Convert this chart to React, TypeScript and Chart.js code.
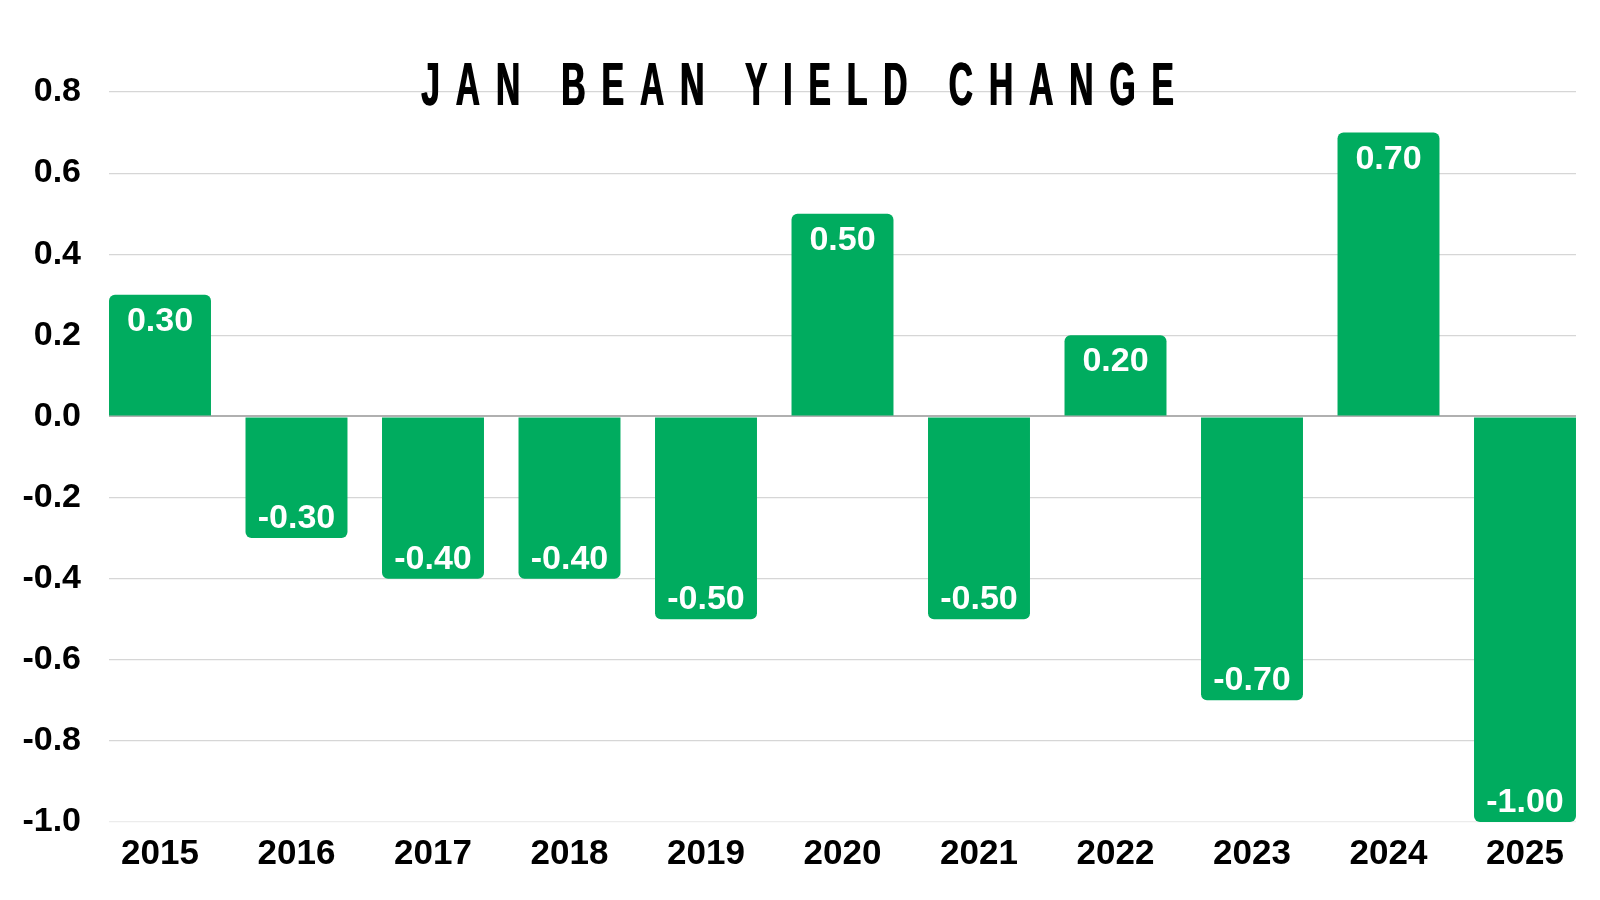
import React, { useEffect, useRef } from "react";
import { Chart, registerables } from "chart.js";

Chart.register(...registerables);

const years = ["2015", "2016", "2017", "2018", "2019", "2020", "2021", "2022", "2023", "2024", "2025"];
const yieldChange = [0.3, -0.3, -0.4, -0.4, -0.5, 0.5, -0.5, 0.2, -0.7, 0.7, -1.0];
const yTickMin = -1.0;
const yTickMax = 0.8;
const yTickStep = 0.2;
const titleText = "JAN BEAN YIELD CHANGE";

const BAR_COLOR = "#00AC5F";
const FONT = "'Liberation Sans', Arial, Helvetica, sans-serif";

const valueLabelPlugin = {
  id: "valueLabels",
  afterDatasetsDraw(chart: any) {
    const ctx = chart.ctx;
    const meta = chart.getDatasetMeta(0);
    ctx.save();
    ctx.fillStyle = "#ffffff";
    ctx.font = `bold 34px ${FONT}`;
    ctx.textAlign = "center";
    ctx.textBaseline = "alphabetic";
    meta.data.forEach((bar: any, i: number) => {
      const v = yieldChange[i];
      const y = v >= 0 ? bar.y + 36 : bar.y - 10;
      ctx.fillText(v.toFixed(2), bar.x, y);
    });
    ctx.restore();
  },
};

export default function App() {
  const canvasRef = useRef<HTMLCanvasElement | null>(null);

  useEffect(() => {
    if (!canvasRef.current) return;
    const chart = new Chart(canvasRef.current, {
      type: "bar",
      data: {
        datasets: [
          {
            data: yieldChange.map((v, i) => ({ x: i, y: v })),
            backgroundColor: BAR_COLOR,
            borderRadius: 6,
            borderSkipped: "start",
            barPercentage: 0.747,
            categoryPercentage: 1,
          },
        ],
      },
      options: {
        animation: false,
        responsive: false,
        maintainAspectRatio: false,
        layout: { padding: { top: 92, right: 24, left: 0, bottom: 0 } },
        plugins: {
          legend: { display: false },
          tooltip: { enabled: false },
          title: { display: false },
        },
        scales: {
          x: {
            type: "linear",
            offset: false,
            min: -0.3736,
            max: years.length - 1 + 0.3736,
            afterBuildTicks: (scale: any) => {
              scale.ticks = years.map((_, i) => ({ value: i }));
            },
            afterFit: (scale: any) => {
              scale.height = 78;
            },
            grid: { display: false, drawTicks: false },
            border: { display: false },
            ticks: {
              autoSkip: false,
              maxRotation: 0,
              padding: 11,
              color: "#000000",
              font: { family: FONT, size: 35, weight: "bold" },
              callback: (value: any) => years[Math.round(Number(value))] ?? "",
            },
          },
          y: {
            min: yTickMin,
            max: yTickMax,
            afterFit: (scale: any) => {
              scale.width = 109;
            },
            grid: {
              drawTicks: false,
              lineWidth: (ctx: any) => {
                const v = ctx.tick ? ctx.tick.value : 1;
                return Math.abs(v) < 1e-9 ? 2 : 1.2;
              },
              color: (ctx: any) => {
                const v = ctx.tick ? ctx.tick.value : 1;
                if (Math.abs(v) < 1e-9) return "#b0b0b0";
                if (Math.abs(v - yTickMin) < 1e-9) return "#ececec";
                return "#d6d6d6";
              },
            },
            border: { display: false },
            ticks: {
              stepSize: yTickStep,
              padding: 28,
              color: "#000000",
              font: { family: FONT, size: 34, weight: "bold" },
              callback: (value: any) => (Math.round(Number(value) * 10) / 10).toFixed(1),
            },
          },
        },
      },
      plugins: [valueLabelPlugin],
    });
    return () => chart.destroy();
  }, []);

  return (
    <div style={{ position: "fixed", left: 0, top: 0, width: 1600, height: 900, background: "#ffffff" }}>
      <canvas ref={canvasRef} width={1600} height={900} style={{ display: "block", width: 1600, height: 900 }} />
      <div
        style={{
          position: "absolute",
          left: 797,
          top: 53.5,
          transform: "translateX(-50%) scaleX(0.55)",
          transformOrigin: "center",
          whiteSpace: "nowrap",
          fontFamily: "'Liberation Sans', Arial, sans-serif",
          fontWeight: "bold",
          fontSize: 61,
          lineHeight: 1,
          letterSpacing: 29,
          wordSpacing: 0,
          paddingLeft: 29,
          color: "#000000",
          textShadow: "2px 0 0 #000000",
        }}
      >
        {titleText}
      </div>
    </div>
  );
}
